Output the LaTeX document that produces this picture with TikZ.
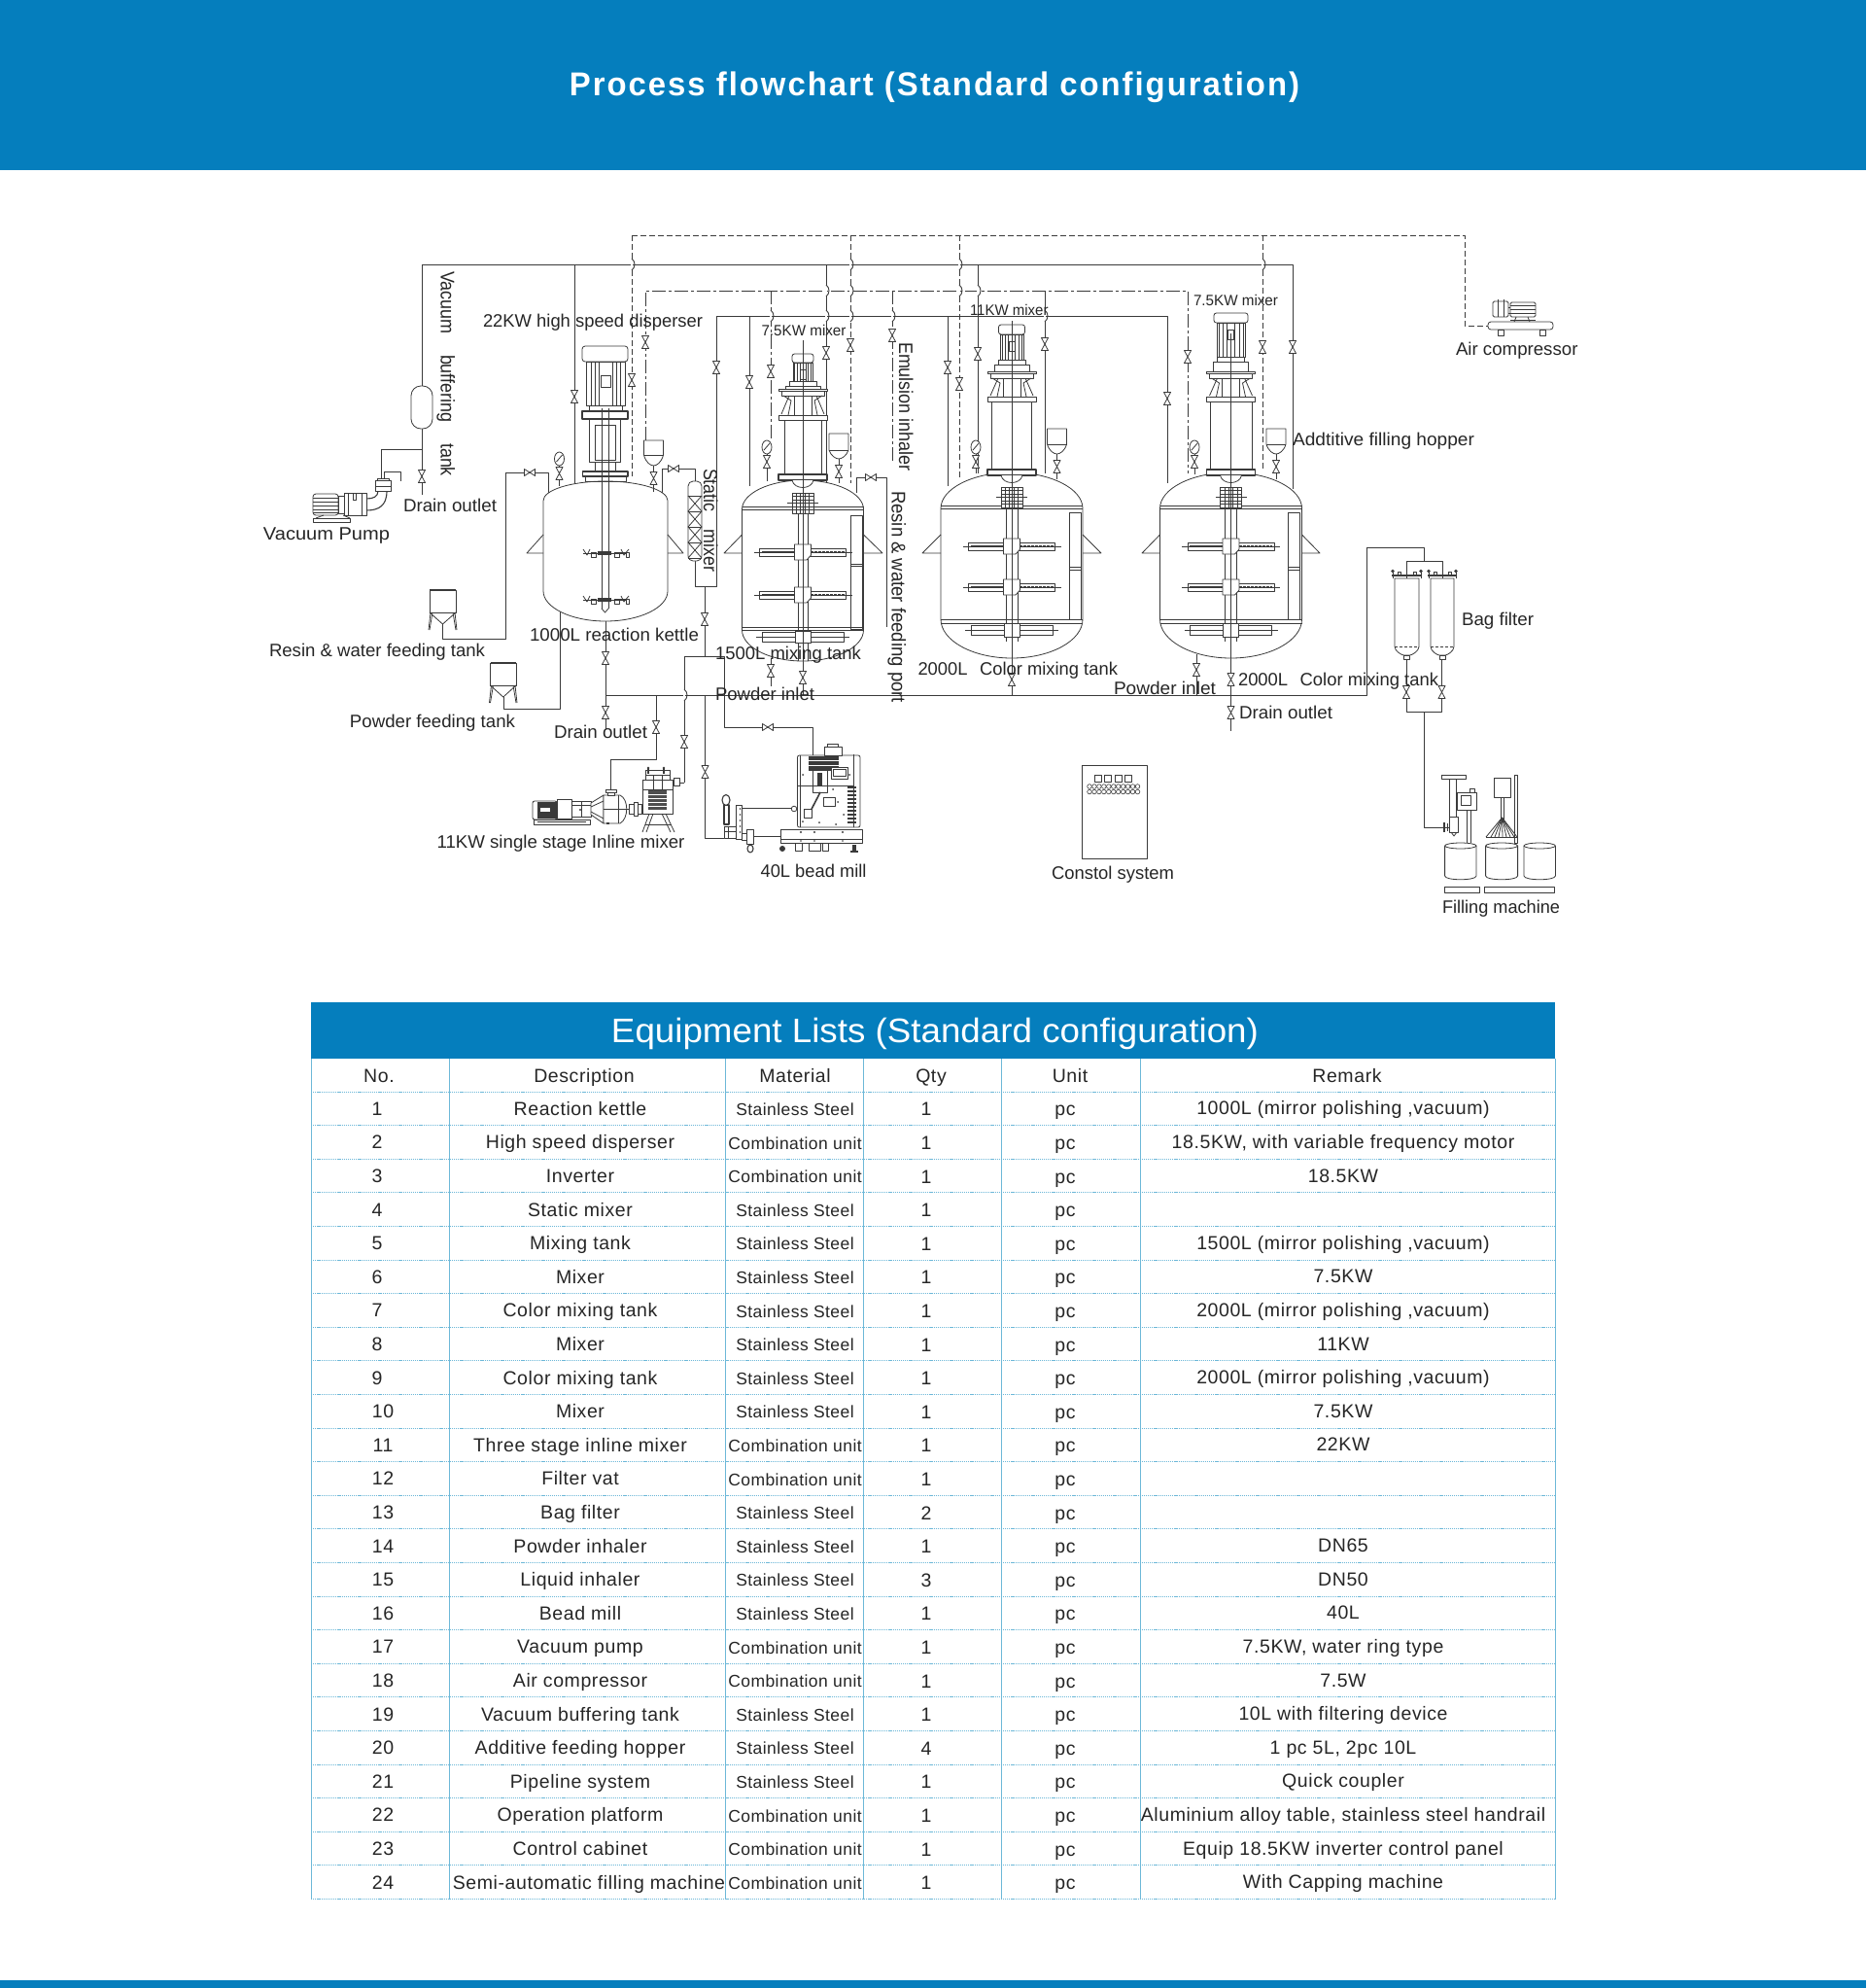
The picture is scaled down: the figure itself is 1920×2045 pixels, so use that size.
\documentclass[tikz,border=0pt]{standalone}
\usepackage{fontspec}
\usepackage{graphicx}
\setmainfont{Liberation Sans}
\newfontfamily\tablefont[LetterSpace=3]{Liberation Sans}
\newfontfamily\matfont[LetterSpace=2.5]{Liberation Sans}
\newfontfamily\titlefont[LetterSpace=6]{Liberation Sans}
\definecolor{hdr}{HTML}{057EBD}
\definecolor{ink}{HTML}{3A3A3A}
\definecolor{txt}{HTML}{262626}
\definecolor{grid}{HTML}{6DB8D8}
\tikzset{
  pipe/.style={draw=ink,line width=0.9pt},
  dashpipe/.style={draw=ink,line width=0.9pt,dash pattern=on 6pt off 3pt},
  dotpipe/.style={draw=ink,line width=0.9pt,dash pattern=on 14pt off 3pt on 3pt off 3pt},
  part/.style={draw=ink,line width=0.8pt},
  heavy/.style={draw=ink,line width=1.6pt},
  fine/.style={draw=ink,line width=0.45pt},
  lab/.style={inner sep=0pt,text=txt,text height=13pt,text depth=0pt,font=\fontsize{18.5}{20}\selectfont},
  rotlab/.style={lab,font=\fontsize{20}{22}\selectfont,text height=14pt},
  smalllab/.style={lab,font=\fontsize{15.5}{18}\selectfont,text height=11pt},
  cell/.style={inner sep=0pt,text=txt,font=\tablefont\fontsize{19.5}{24}\selectfont,text height=14pt,text depth=0pt},
  matcell/.style={inner sep=0pt,text=txt,font=\matfont\fontsize{17.5}{20}\selectfont,text height=12.5pt,text depth=0pt},
  gridh/.style={draw=grid,line width=1pt,dash pattern=on 1.2pt off 0.9pt},
  gridv/.style={draw=grid,line width=0.9pt},
}
\newcommand{\lbl}[6][lab]{\node[#1] (#2) at ({(#3+#4)/2},#5) {\resizebox{\dimexpr#4pt-#3pt\relax}{\height}{#6}};}
\newcommand{\rlbl}[5]{\node[rotlab,rotate=-90] (#1) at (#2,{(#3+#4)/2}) {\resizebox{\dimexpr#4pt-#3pt\relax}{\height}{#5}};}
\newcommand{\vv}[2]{\draw[part,fill=white] ({#1-3.5},{#2-6.5}) -- ({#1+3.5},{#2-6.5}) -- ({#1-3.5},{#2+6.5}) -- ({#1+3.5},{#2+6.5}) -- cycle;}
\newcommand{\hv}[2]{\draw[part,fill=white] ({#1-5.5},{#2-3.5}) -- ({#1-5.5},{#2+3.5}) -- ({#1+5.5},{#2-3.5}) -- ({#1+5.5},{#2+3.5}) -- cycle;}
\newcommand{\hop}[2]{\fill[white] ({#1-1.2},{#2-5}) rectangle ({#1+0.8},{#2+5});\draw[pipe] (#1,{#2-6}) .. controls ({#1+4},{#2-3}) and ({#1+4},{#2+3}) .. (#1,{#2+6});}
\newcommand{\tank}[6]{\draw[part,fill=white] ({#1-#2},#4)
  .. controls ({#1-#2},{#4-0.55*(#4-#3)}) and ({#1-0.55*#2},#3) .. (#1,#3)
  .. controls ({#1+0.55*#2},#3) and ({#1+#2},{#4-0.55*(#4-#3)}) .. ({#1+#2},#4)
  -- ({#1+#2},#5)
  .. controls ({#1+#2},{#5+0.55*(#6-#5)}) and ({#1+0.55*#2},#6) .. (#1,#6)
  .. controls ({#1-0.55*#2},#6) and ({#1-#2},{#5+0.55*(#6-#5)}) .. ({#1-#2},#5) -- cycle;}
\newcommand{\lugs}[4]{\draw[part] (#1,550) -- (#2,569) -- (#1,569);\draw[part] (#3,550) -- (#4,569) -- (#3,569);}
\newcommand{\imp}[3]{
  \draw[part,fill=white] ({#1-#3},{#2-4}) rectangle ({#1+#3},{#2+4});
  \draw[heavy,line width=1.5pt] ({#1-#3+2},#2) -- ({#1-8},#2);
  \draw[part,line width=1.2pt,dash pattern=on 3pt off 1pt] ({#1+8},#2) -- ({#1+#3-2},#2);
  \draw[fine] ({#1-#3-6},#2) -- ({#1+#3+6},#2);
  \draw[part,fill=white] ({#1-8.5},{#2-8}) -- ({#1+8.5},{#2-8}) -- ({#1+8.5},{#2+3}) -- ({#1+4},{#2+8}) -- ({#1-8.5},{#2+8}) -- cycle;
}
\newcommand{\hopper}[5]{\draw[part,fill=white] ({#1-#5},#2) -- ({#1+#5},#2) -- ({#1+#5},#3)
  .. controls ({#1+#5-2},{#4-3}) and ({#1+3},#4) .. (#1,#4)
  .. controls ({#1-3},#4) and ({#1-#5+2},{#4-3}) .. ({#1-#5},#3) -- cycle;
  \draw[fine] ({#1-#5},#3) -- ({#1+#5},#3);}
\newcommand{\gauge}[3]{\draw[pipe] (#1,#2) -- (#1,#3);\draw[part,fill=white] (#1,#2) ellipse [x radius=5,y radius=7];
  \draw[part] ({#1-3},{#2+3}) -- ({#1+3},{#2-4});\vv{#1}{#2+15}}
\newcommand{\feedbin}[6]{\draw[part] (#1,#3) rectangle (#2,#4);
  \draw[part,line width=1.2pt] (#1,#3) -- (#2,#3);
  \draw[part] (#1,#4) -- ({(#1+#2)/2},#5) -- (#2,#4);
  \draw[part] ({#1+1},#4) -- ({#1-1},#6);\draw[part] ({#2-1},#4) -- ({#2+1},#6);
  \draw[part] ({#1+3},#4) -- ({#1},#6);\draw[part] ({#2-3},#4) -- ({#2},#6);}
\newcommand{\topworks}[9]{
  \draw[part,fill=white,rounded corners=2.5pt] ({#1-#4},#3) -- ({#1-#4},#2) -- ({#1+#4},#2) -- ({#1+#4},#3) -- cycle;
  \draw[part,fill=white] ({#1-#5},#3) rectangle ({#1+#5},#6);
  \foreach \q in {-3,-2,-1,1,2,3} {\draw[fine] ({#1+\q*#5/3.5},#3) -- ({#1+\q*#5/3.5},#6);}
  \draw[part,fill=white] ({#1-3},{#3+7}) rectangle ({#1+3},{#3+17});
  \draw[part,fill=white] ({#1-14},#6) rectangle ({#1+14},{#6+5});
  \draw[part,fill=white] ({#1-18},{#6+5}) rectangle ({#1+18},{#7-2});
  \draw[heavy,fill=white,line width=0.9pt] ({#1-25},{#7-2}) rectangle ({#1+25},#7);
  \draw[part,fill=white] ({#1-22},#7) rectangle ({#1+22},{#7+5});
  \draw[part] ({#1-20},{#7+5}) -- ({#1-12},{#7+10}) -- ({#1-15},#8);
  \draw[part] ({#1+20},{#7+5}) -- ({#1+12},{#7+10}) -- ({#1+15},#8);
  \draw[part] ({#1-22},{#8-1}) -- ({#1-14},{#7+5});\draw[part] ({#1+22},{#8-1}) -- ({#1+14},{#7+5});
  \draw[part] ({#1-9},{#7+5}) -- ({#1-9},#8);\draw[part] ({#1+9},{#7+5}) -- ({#1+9},#8);
  \draw[part,fill=white] ({#1-25},#8) rectangle ({#1+25},{#8+5});
  \draw[part,fill=white] ({#1-#9},{#8+5}) rectangle ({#1+#9},\colB);
  \draw[heavy,fill=white,line width=1.1pt] ({#1-25},\colB) rectangle ({#1+25},{\colB+6});
  \draw[part,fill=white] ({#1-11},{\colB+6}) .. controls ({#1-9},{\colB+16}) and ({#1+9},{\colB+16}) .. ({#1+11},{\colB+6});
}
\newcommand{\coupling}[3]{
  \draw[part,fill=white] ({#1-11},#2) rectangle ({#1+11},#3);
  \foreach \q in {1,2,3,4,5} {\draw[part] ({#1-11},{#2+\q*(#3-#2)/6}) -- ({#1+11},{#2+\q*(#3-#2)/6});}
  \foreach \q in {1,2,3,4} {\draw[part] ({#1-11+\q*22/5},#2) -- ({#1-11+\q*22/5},#3);}
  \draw[fine] ({#1-16},{(#2+#3)/2}) -- ({#1+16},{(#2+#3)/2});
}
\newcommand{\disc}[2]{
  \draw[part] (600,{#2-4}) -- (604,{#2+2}) -- (607,{#2-4}) ;
  \draw[part] (608,{#2-1}) rectangle (613,{#2+4});
  \draw[part] (632,{#2-1}) rectangle (637,{#2+4});
  \draw[part] (639,{#2-4}) -- (642,{#2+2}) -- (647,{#2-4});
  \draw[part] (644,{#2-1}) rectangle (647,{#2+4});
  \draw[part] (600,{#2}) -- (637,{#2});
  \draw[part,line width=1.1pt] (637,{#2}) -- (644,{#2});
  \fill[ink] (615,{#2-2.5}) rectangle (629,{#2+2});
}
\def\descx{597}
\newcommand{\trow}[6]{
  \pgfmathsetmacro{\ry}{1123+34.6*(#1-0.5)}
  \node[cell] (no#1) at (#2,\ry) {#1};
  \node[cell] (de#1) at (\descx,\ry) {#3};
  \node[matcell] (ma#1) at (818,{\ry+1}) {#4};
  \node[cell] (qt#1) at (953,{\ry+0.5}) {#5};
  \node[cell] (un#1) at (1096,{\ry+0.5}) {pc};
  \node[cell] (re#1) at (1382,{\ry-0.5}) {#6};
}
\begin{document}
\begin{tikzpicture}[x=1pt,y=-1pt,line join=round]
\useasboundingbox (0,0) rectangle (1920,2045);
\fill[white] (0,0) rectangle (1920,2045);
\fill[hdr] (0,0) rectangle (1920,175);
\fill[hdr] (0,2037) rectangle (1920,2045);
\node[inner sep=0pt,text=white] (title) at (961.5,90)
  {\resizebox{751pt}{\height}{\titlefont\bfseries\fontsize{34}{38}\selectfont Process flowchart (Standard configuration)}};

% ---------- upper air line (dashed)
\draw[dashpipe] (650,242) -- (1507,242) -- (1507,335) -- (1531,335);
\draw[dashpipe] (650,242) -- (650,490);
\draw[dashpipe] (875,242) -- (875,497);
\draw[dashpipe] (987,242) -- (987,493);
\draw[dashpipe] (1299,242) -- (1299,483);
% vacuum line
\draw[pipe] (434,509) -- (434,272) -- (1330,272) -- (1330,503);
\draw[pipe] (591,272) -- (591,497);
\draw[pipe] (850,272) -- (850,503);
\draw[pipe] (1006,272) -- (1006,487);
\draw[pipe] (434,462) -- (392,462) -- (392,492);
% emulsion line (dash-dot)
\draw[dotpipe] (664,453) -- (664,299) -- (1222,299) -- (1222,487);
\draw[dotpipe] (793,299) -- (793,453);
\draw[dotpipe] (918,299) -- (918,477);
\draw[pipe] (1075,299) -- (1075,487);
% resin line
\draw[pipe] (715,495) -- (715,603) -- (737,603) -- (737,325) -- (1201,325) -- (1201,497);
\draw[pipe] (771,325) -- (771,500);
\draw[pipe] (975,325) -- (975,500);
% hops
\hop{650}{272}\hop{875}{272}\hop{875}{299}\hop{875}{325}\hop{850}{299}\hop{850}{325}
\hop{793}{325}\hop{918}{325}\hop{987}{272}\hop{987}{299}\hop{1006}{299}\hop{1075}{325}\hop{1299}{272}
% discharge header
\draw[pipe] (623,715) -- (1406,715) -- (1406,563) -- (1465,563) -- (1465,577);
\draw[pipe] (1447,590) -- (1447,577) -- (1484,577) -- (1484,590);
\draw[pipe] (623,639) -- (623,750);
\draw[pipe] (725,603) -- (725,675);
\draw[pipe] (704,805) -- (704,675) -- (745,675) -- (745,748) -- (836,748) -- (836,777);
\draw[pipe] (725.5,715) -- (725.5,862) -- (745,862);
\draw[pipe] (675,715) -- (675,781) -- (628.6,781) -- (628.6,812);
\draw[pipe] (793,677) -- (793,706);
\hop{704}{715}
% feed lines
\draw[pipe] (455,642) -- (455,657) -- (520.5,657) -- (520.5,486) -- (564,486) -- (564,507);
\draw[pipe] (518,717) -- (518,729) -- (576,729) -- (576,625);
\draw[pipe] (681,510) -- (681,482) -- (715,482) -- (715,495);
\draw[pipe] (881,507) -- (881,491) -- (912.5,491) -- (912.5,645);
\draw[pipe] (1447,678) -- (1447,732) -- (1483.5,732) -- (1483.5,678);
\draw[pipe] (1465.5,732) -- (1465.5,851) -- (1492,851);
\draw[pipe] (1231,673) -- (1231,715);
\draw[pipe] (826,680) -- (826,715);
\draw[pipe] (1041,677) -- (1041,715);
\draw[pipe] (1266.5,677) -- (1266.5,752);

% ---------- buffer vessel
\draw[part,fill=white,rounded corners=10pt] (423,397) rectangle (445,441);

% ---------- vacuum pump
\draw[part,fill=white,rounded corners=3pt] (322,508) rectangle (348,530);
\foreach \yy in {512,516,520,524,527} {\draw[fine,line width=0.7pt] (322,\yy) -- (348,\yy);}
\draw[part,fill=white] (348,510) rectangle (354,528);
\draw[part,fill=white] (354,507) rectangle (377,530);
\draw[part] (358,507) -- (358,530);\draw[part] (372,507) -- (372,530);
\draw[part,fill=white] (363,507) rectangle (366,514);
\draw[part,fill=white] (322,533) rectangle (360,537);
\draw[part] (333,530) -- (325,533);\draw[part] (353,530) -- (360,533);
\draw[part,line width=1.1pt] (377,513) .. controls (384,513) and (389,511) .. (389,505);
\draw[part,line width=1.1pt] (377,525) .. controls (390,525) and (398,520) .. (398,505);
\draw[part,fill=white] (388,505) rectangle (400,500);
\draw[part,fill=white] (386,494) rectangle (402,500);
\draw[part,fill=white] (388,492) rectangle (400,494);
\draw[part,fill=white] (386,500) rectangle (402,505);
\draw[pipe] (395,492) -- (395,485) -- (412,485) -- (412,495);

% ---------- tank 1 (1000L)
\tank{623}{64}{495}{515}{608}{639}
\lugs{559}{542}{687}{703}
\draw[part,fill=white,rounded corners=3pt] (599,372) -- (599,356) -- (646,356) -- (646,372) -- cycle;
\draw[part,fill=white] (603,372) rectangle (643,417);
\foreach \xx in {608,612,616,630,634,638} {\draw[fine] (\xx,372) -- (\xx,417);}
\draw[part,fill=white] (618,386) rectangle (628.6,398);
\draw[part,fill=white] (606,417) rectangle (640,422);
\draw[part,fill=white,line width=1.1pt] (599,423) rectangle (646,431);
\draw[part,fill=white] (606,431) rectangle (638,475);
\draw[part] (612.5,437) rectangle (633,473);
\draw[part] (612.5,475) rectangle (633,485);
\draw[part,fill=white,line width=1.1pt] (599.5,485) rectangle (646,490);
\draw[part] (602,490) rectangle (644,495);
\draw[part,line width=1pt] (619,420) -- (619,626);
\draw[part,line width=1pt] (626,420) -- (626,626);
\draw[part] (619,626) -- (622.5,630) -- (626,626);
\disc{623}{569}\disc{623}{617}
\hopper{672.5}{453}{468}{479}{10}
\draw[pipe] (672.5,479) -- (672.5,506);
\gauge{575.5}{472}{500}

% ---------- tank 2 (1500L)
\tank{826}{62.5}{494}{524}{648}{680}
\lugs{763.5}{745}{888.5}{908}
\draw[part,fill=white] (875,530) rectangle (887,647);
\draw[fine] (875,580) -- (887,580);\draw[fine] (875,582) -- (887,582);
\draw[part] (763.5,524) -- (888.5,524);\draw[part] (763.5,521) -- (888.5,521);
\draw[part] (763.5,648) -- (888.5,648);\draw[part] (763.5,645) -- (888.5,645);
\def\colB{488}
\topworks{826}{364}{373}{11}{10}{392}{402}{427}{19}
\draw[part] (821,524) -- (821,680);\draw[part] (831,524) -- (831,680);
\coupling{826}{507}{528}
\imp{826}{568}{44.5}
\imp{826}{612}{44.5}
\draw[part,fill=white] (784,650) rectangle (868,660);
\draw[fine] (778,655) -- (874,655);
\draw[part,fill=white] (818,649) rectangle (834,661);
\draw[pipe] (826,350) -- (826,680);
\hopper{863}{446}{463}{472}{10}
\draw[pipe] (863,472) -- (863,497);
\gauge{789}{460}{495}

% ---------- tank 3 (2000L)
\tank{1041}{73}{486}{523}{637}{677}
\lugs{968}{949}{1114}{1133}
\draw[part,fill=white] (1100,527) rectangle (1112,637);
\draw[fine] (1100,583) -- (1112,583);\draw[fine] (1100,586) -- (1112,586);
\draw[part] (968,523) -- (1114,523);\draw[part] (968,520) -- (1114,520);
\draw[part] (968,637) -- (1114,637);\draw[part] (968,641) -- (1114,641);
\def\colB{483}
\topworks{1041}{334}{344}{13.5}{12}{370}{384}{408}{20.5}
\draw[part] (1035,522) -- (1035,660);\draw[part] (1047,522) -- (1047,660);
\coupling{1041}{501}{522}
\imp{1041}{562}{44.5}
\imp{1041}{604}{44.5}
\draw[part,fill=white] (999,643) rectangle (1083,653);
\draw[fine] (993,648) -- (1089,648);
\draw[part,fill=white] (1033,641) rectangle (1049,655);
\draw[pipe] (1041,330) -- (1041,677);
\hopper{1087.5}{441}{457}{467}{10}
\draw[pipe] (1087.5,467) -- (1087.5,493);
\gauge{1004}{460}{487}

% ---------- tank 4 (2000L)
\tank{1266.5}{73}{486}{523}{637}{677}
\lugs{1193.5}{1175}{1339.5}{1358}
\draw[part,fill=white] (1325,527) rectangle (1337,637);
\draw[fine] (1325,583) -- (1337,583);\draw[fine] (1325,586) -- (1337,586);
\draw[part] (1193.5,523) -- (1339.5,523);\draw[part] (1193.5,520) -- (1339.5,520);
\draw[part] (1193.5,637) -- (1339.5,637);\draw[part] (1193.5,641) -- (1339.5,641);
\def\colB{483}
\topworks{1266.5}{322}{332}{17.5}{14.5}{367}{384}{408}{21.5}
\draw[part] (1260.5,522) -- (1260.5,660);\draw[part] (1272.5,522) -- (1272.5,660);
\coupling{1266.5}{501}{522}
\imp{1266.5}{562}{44.5}
\imp{1266.5}{604}{44.5}
\draw[part,fill=white] (1224.5,643) rectangle (1308.5,653);
\draw[fine] (1218.5,648) -- (1314.5,648);
\draw[part,fill=white] (1258.5,641) rectangle (1274.5,655);
\draw[pipe] (1266.5,343) -- (1266.5,677);
\hopper{1313}{441}{457}{467}{10}
\draw[pipe] (1313,467) -- (1313,493);
\gauge{1229}{460}{488}

% ---------- static mixer
\draw[part,fill=white,rounded corners=5pt] (708,495) rectangle (722,577);
\foreach \yy in {510,526,542,558} {\draw[part] (708,\yy) -- (722,{\yy+16});\draw[part] (722,\yy) -- (708,{\yy+16});\draw[part] (708,\yy) -- (722,\yy);}
\draw[part] (708,574) -- (722,574);

% ---------- feed bins
\feedbin{442}{469}{607}{630}{642}{648}
\feedbin{504.5}{531}{682}{705}{717}{723}

% ---------- valves
\vv{434}{490}\vv{591}{408}\vv{650}{391}\vv{664}{352}\vv{672.5}{492}\vv{737}{378}
\vv{771}{393}\vv{793}{382}\vv{850}{363}\vv{875}{355}\vv{918}{345}\vv{863}{485}
\vv{975}{378}\vv{987}{395}\vv{1006}{364}\vv{1075}{354}\vv{1087.5}{480}\vv{1201}{410}
\vv{1222}{367}\vv{1299}{357}\vv{1330}{357}\vv{1313}{480}
\vv{725}{637}\vv{704}{763}\vv{725.5}{794}\vv{675}{748}
\vv{623}{677}\vv{623}{733}\vv{793}{690}\vv{826}{697}
\vv{1041}{699}\vv{1231}{689}\vv{1266.5}{699}\vv{1266.5}{733}
\vv{1447}{712}\vv{1483.5}{712}
\hv{545}{486}\hv{693}{482}\hv{896}{491}\hv{790}{748}

% ---------- inline mixer
\draw[part,fill=white,rounded corners=2pt] (548,824) rectangle (573,843);
\fill[ink] (553,825) rectangle (573,842);
\fill[white] (556,831) rectangle (566,835);
\draw[part,fill=white] (573,822) rectangle (588,842);
\draw[part,fill=white] (588,824) rectangle (608,840);
\draw[part] (598,824) -- (598,840);\draw[part] (588,828) -- (608,828);\fill[ink] (597,833) circle (1.2);
\draw[part,fill=white] (549,843) rectangle (607,848);
\draw[part] (553,845.5) -- (603,845.5);
\draw[part,fill=white] (608,826) -- (621,818) -- (621,847) -- (608,838) -- cycle;
\draw[part] (608,830) -- (621,824);\draw[part] (608,835) -- (621,842);
\draw[part,fill=white] (621,818) -- (638,818) .. controls (647,822) and (647,842) .. (638,847) -- (621,847) -- cycle;
\draw[part] (636,818) -- (636,847);\draw[fine] (621,832) -- (647,832);
\fill[ink] (624,846) rectangle (627,848);
\draw[part,fill=white] (625,815) rectangle (632,818);
\draw[part,fill=white] (623,812) rectangle (634,815);
\draw[part,fill=white] (647,827) rectangle (660,837);
\draw[part,fill=white] (652,825) rectangle (656,839);
\draw[part,fill=white] (661,802) rectangle (692,837);
\draw[part] (661,812) -- (692,812);
\draw[part] (664,792) rectangle (689,802);
\draw[part] (664,797) -- (689,797);
\draw[part] (672,797) rectangle (681,812);
\fill[ink!90] (667,813) rectangle (686,833);
\foreach \yy in {817,821,825,829} {\draw[white,line width=0.4pt] (667,\yy) -- (686,\yy);}
\foreach \xx in {667,683} {\draw[part,line width=1.2pt] (\xx,790) -- (\xx,796);\fill[ink] (\xx,790) circle (1.4);}
\draw[part] (668,837) -- (661,856);\draw[part] (685,837) -- (694,856);
\draw[part] (664,848) -- (691,848);\draw[part] (672,837) -- (665,856);\draw[part] (681,837) -- (690,856);
\draw[pipe] (692,805) -- (704,805);
\draw[part,fill=white] (693,800) rectangle (699,808);

% ---------- bead mill
\draw[part,fill=white,rounded corners=2pt] (820.5,777) rectangle (885,851);
\draw[part] (823,777) -- (823,851);
\draw[part] (878,776) -- (878,851);
\draw[part,fill=white] (848,768) rectangle (866,777);
\draw[part] (851,765) rectangle (862,768);
\fill[ink] (832,778) rectangle (863,793);
\draw[white,line width=0.8pt] (832,782) -- (863,782);\draw[white,line width=0.8pt] (832,787) -- (863,787);
\draw[part,fill=white] (855,789) rectangle (872,801);
\draw[part] (857,791) rectangle (870,798);
\draw[part,fill=white] (836,792) rectangle (851,815);
\fill[ink] (841,795) rectangle (846,809);
\draw[part] (820.5,808) -- (878,808);
\foreach \yy in {810,814,818,822,826,830,834,838,842,846} {\draw[part,line width=1.1pt] (872,\yy) -- (881,\yy);}
\draw[heavy] (844,815) -- (831,840);\draw[part,fill=white] (827,832) rectangle (835,841);
\draw[part] (847,820) rectangle (859,829);
\foreach \px/\py in {826/797,857/812,862/825,826/845,843/846,874/797,868/838,860/848} {\fill[ink] (\px,\py) circle (1);}
\draw[pipe] (763,831) -- (814,831);\draw[part,fill=white] (817,832) circle (2.8);
\draw[pipe] (775,860) -- (803,860);
\draw[part,fill=white] (803.5,853) rectangle (887,867);
\draw[part] (803.5,863) -- (887,863);
\foreach \xx in {824,838,867} {\fill[ink] (\xx,856) circle (1.1);\fill[ink] (\xx,865) circle (0.9);}
\draw[part] (818,867) rectangle (825,875);\draw[part] (832,867) rectangle (844,875);\draw[part] (846,867) rectangle (852,875);
\fill[ink] (877,869) rectangle (881,875);\fill[ink] (875,875) rectangle (883,877);
\fill[ink] (805,873) circle (3);
% chamber
\draw[part,fill=white] (757,828) rectangle (763,863);
\foreach \yy in {832,838,844,850,856} {\fill[ink] (761.5,\yy) circle (0.9);}
\draw[part,line width=1.1pt,fill=white] (745,828) rectangle (750,848);
\draw[part,line width=1.1pt,fill=white] (747,823) ellipse [x radius=4,y radius=5.5];
\draw[part,fill=white] (745,850) rectangle (757,862);
\draw[part] (749,850) -- (749,862);\draw[part] (745,855) -- (757,855);
\draw[part,fill=white] (763,857) rectangle (768,864);
\draw[part,fill=white] (768,853) rectangle (775,868);
\draw[part,line width=1.1pt,fill=white] (772,873) ellipse [x radius=3,y radius=4];

% ---------- compressor
\draw[part,fill=white,rounded corners=3pt] (1531,331) rectangle (1598,339);
\draw[part,fill=white] (1541,339) rectangle (1547,345);\draw[part,fill=white] (1584,339) rectangle (1590,345);
\draw[part,fill=white,rounded corners=1.5pt] (1536,310) rectangle (1552,326);
\draw[part,fill=white,rounded corners=1.5pt] (1554,311) rectangle (1580,326);
\foreach \yy in {314,318,322} {\draw[fine] (1554,\yy) -- (1580,\yy);}
\draw[part] (1541,308) -- (1541,326);\draw[part] (1547,308) -- (1547,326);
\draw[part] (1552,316) -- (1554,316);\draw[part] (1552,322) -- (1554,322);
\draw[part] (1560,326) -- (1558,331);\draw[part] (1572,326) -- (1574,331);\draw[part] (1554,329) -- (1580,329);

% ---------- bag filters
\foreach \cl/\cr in {1435/1460,1472/1496} {
  \pgfmathsetmacro{\cm}{(\cl+\cr)/2}
  \draw[part,fill=white] (\cl,595) -- (\cl,665) .. controls (\cl,670) and ({\cm-5},674) .. ({\cm-3},674) -- ({\cm+3},674) .. controls ({\cm+5},674) and (\cr,670) .. (\cr,665) -- (\cr,595) -- cycle;
  \draw[fine,densely dashed] (\cl,665) -- (\cr,665);
  \draw[part,fill=white] ({\cm-3},674) rectangle ({\cm+3},678);
  \draw[heavy,line width=2pt] ({\cl-3},592) -- ({\cr+3},592);
  \draw[part] ({\cl-2},595) -- ({\cl-2},588);\draw[part] ({\cr+2},595) -- ({\cr+2},588);
  \fill[ink] ({\cl-2},587.5) circle (1.8);\fill[ink] ({\cr+2},587.5) circle (1.8);
  \draw[part] (\cm,590) -- (\cm,595);
  \draw[part] ({\cl+3},588) rectangle ({\cl+6},592);\draw[part] ({\cr-6},588) rectangle ({\cr-3},592);
}

% ---------- control cabinet
\draw[part] (1113,787) rectangle (1180,883);
\foreach \xx in {1126,1136.5,1147,1157.5} {\draw[part] (\xx,797) rectangle ({\xx+7},804);}
\foreach \i in {0,...,10} {\foreach \yy in {809,814.5} {\draw[fine,line width=0.6pt] ({1121+\i*4.95},\yy) circle (2.3);}}

% ---------- filling machine
\draw[part] (1483.5,797) rectangle (1508,801);
\draw[part] (1491.5,801) -- (1491.5,840);\draw[part] (1498,801) -- (1498,840);
\draw[part] (1491.5,840) rectangle (1500,856);
\draw[part] (1493,856) -- (1496,860) -- (1499,856);
\draw[part,line width=1.4pt] (1486,846) -- (1486,856);\draw[part] (1489,847) -- (1489,855);
\draw[part,fill=white] (1499,815) rectangle (1519,833);
\draw[part] (1503,818) rectangle (1513,828);
\draw[part] (1512.5,811) rectangle (1517,815);
\draw[part] (1509,833) -- (1509,867);\draw[part] (1513,833) -- (1513,867);
\draw[part] (1537.5,800) rectangle (1554,820);
\draw[part] (1558,797) rectangle (1561.6,867);
\draw[part] (1544,820) -- (1544,843);\draw[part] (1547,820) -- (1547,843);
\foreach \xx in {1529,1534,1538,1542,1546,1550,1554,1558,1561} {\draw[part] (1545.5,841) -- (\xx,861);}
\draw[part] (1529,861) -- (1561,861);
\foreach \xl/\xr in {1486.6/1519,1528.6/1561.6,1568/1600.4} {
  \pgfmathsetmacro{\cm}{(\xl+\xr)/2}
  \pgfmathsetmacro{\rr}{(\xr-\xl)/2}
  \draw[part,fill=white] (\xl,870) -- (\xl,901) .. controls (\xl,906) and (\xr,906) .. (\xr,901) -- (\xr,870);
  \draw[part,fill=white] (\cm,870) ellipse [x radius=\rr,y radius=3];
}
\draw[part] (1486.6,912) rectangle (1522,918);
\draw[part] (1527,912) rectangle (1599,918);

% ---------- labels
\rlbl{lvac}{460.5}{279}{490}{Vacuum\hspace{1.2em}buffering\hspace{1.2em}tank}
\lbl{ldis}{497}{723}{330}{22KW high speed disperser}
\lbl[smalllab]{lm1}{783.5}{870.5}{340}{7.5KW mixer}
\rlbl{lemu}{932}{352}{485}{Emulsion inhaler}
\rlbl{lsta}{731}{482}{588}{Static\hspace{1em}mixer}
\rlbl{lres}{924.5}{505}{723}{Resin \& water feeding port}
\lbl{ldr1}{415}{511}{520}{Drain outlet}
\lbl{lvp}{271}{401}{549}{Vacuum Pump}
\lbl{lrk}{545}{719}{653}{1000L reaction kettle}
\lbl{lrt}{277}{499}{669}{Resin \& water feeding tank}
\lbl{lmt}{736}{886}{672}{1500L mixing tank}
\lbl{lpi1}{736}{838}{714}{Powder inlet}
\lbl{lpt}{360}{530}{742}{Powder feeding tank}
\lbl{ldr2}{570}{666}{753}{Drain outlet}
\lbl{lim}{449.5}{704.5}{866}{11KW single stage Inline mixer}
\lbl{lbm}{782.6}{891.5}{896}{40L bead mill}
\lbl[smalllab]{lm2}{998}{1078.5}{319}{11KW mixer}
\lbl[smalllab]{lm3}{1228}{1315}{309}{7.5KW mixer}
\lbl{lac}{1498}{1623.5}{359}{Air compressor}
\lbl{lah}{1330}{1517}{452}{Addtitive filling hopper}
\lbl{lbf}{1504}{1578}{637}{Bag filter}
\lbl{lct1}{944.5}{1150}{688}{2000L\hspace{0.4em} Color mixing tank}
\lbl{lpi2}{1146}{1251}{708}{Powder inlet}
\lbl{lct2}{1274}{1480}{699}{2000L\hspace{0.4em} Color mixing tank}
\lbl{ldr3}{1275}{1371}{733}{Drain outlet}
\lbl{lfm}{1484}{1605}{933}{Filling machine}
\lbl{lcs}{1082}{1208}{898}{Constol system}

% ---------- table
\fill[hdr] (320,1031) rectangle (1600,1089);
\node[inner sep=0pt,text=white] (eqtitle) at (962,1063)
  {\resizebox{666pt}{\height}{\fontsize{35}{40}\selectfont Equipment Lists (Standard configuration)}};
\foreach \i in {0,...,24} {\draw[gridh] (320,{1123+34.6*\i}) -- (1600,{1123+34.6*\i});}
\foreach \xx in {320,462,746,888,1030,1173,1600} {\draw[gridv] (\xx,1089) -- (\xx,1954);}
\node[cell] (hno) at (390,1106) {No.};
\node[cell] (hde) at (601,1106) {Description};
\node[cell] (hma) at (818,1106) {Material};
\node[cell] (hqt) at (958,1106) {Qty};
\node[cell] (hun) at (1101,1106) {Unit};
\node[cell] (hre) at (1386,1106) {Remark};
\trow{1}{388}{Reaction kettle}{Stainless Steel}{1}{1000L (mirror polishing ,vacuum)}
\trow{2}{388}{High speed disperser}{Combination unit}{1}{18.5KW, with variable frequency motor}
\trow{3}{388}{Inverter}{Combination unit}{1}{18.5KW}
\trow{4}{388}{Static mixer}{Stainless Steel}{1}{}
\trow{5}{388}{Mixing tank}{Stainless Steel}{1}{1500L (mirror polishing ,vacuum)}
\trow{6}{388}{Mixer}{Stainless Steel}{1}{7.5KW}
\trow{7}{388}{Color mixing tank}{Stainless Steel}{1}{2000L (mirror polishing ,vacuum)}
\trow{8}{388}{Mixer}{Stainless Steel}{1}{11KW}
\trow{9}{388}{Color mixing tank}{Stainless Steel}{1}{2000L (mirror polishing ,vacuum)}
\trow{10}{394}{Mixer}{Stainless Steel}{1}{7.5KW}
\trow{11}{394}{Three stage inline mixer}{Combination unit}{1}{22KW}
\trow{12}{394}{Filter vat}{Combination unit}{1}{}
\trow{13}{394}{Bag filter}{Stainless Steel}{2}{}
\trow{14}{394}{Powder inhaler}{Stainless Steel}{1}{DN65}
\trow{15}{394}{Liquid inhaler}{Stainless Steel}{3}{DN50}
\trow{16}{394}{Bead mill}{Stainless Steel}{1}{40L}
\trow{17}{394}{Vacuum pump}{Combination unit}{1}{7.5KW, water ring type}
\trow{18}{394}{Air compressor}{Combination unit}{1}{7.5W}
\trow{19}{394}{Vacuum buffering tank}{Stainless Steel}{1}{10L with filtering device}
\trow{20}{394}{Additive feeding hopper}{Stainless Steel}{4}{1 pc 5L, 2pc 10L}
\trow{21}{394}{Pipeline system}{Stainless Steel}{1}{Quick coupler}
\trow{22}{394}{Operation platform}{Combination unit}{1}{Aluminium alloy table, stainless steel handrail}
\trow{23}{394}{Control cabinet}{Combination unit}{1}{Equip 18.5KW inverter control panel}
\def\descx{606}
\trow{24}{394}{Semi-automatic filling machine}{Combination unit}{1}{With Capping machine}
\end{tikzpicture}
\end{document}
